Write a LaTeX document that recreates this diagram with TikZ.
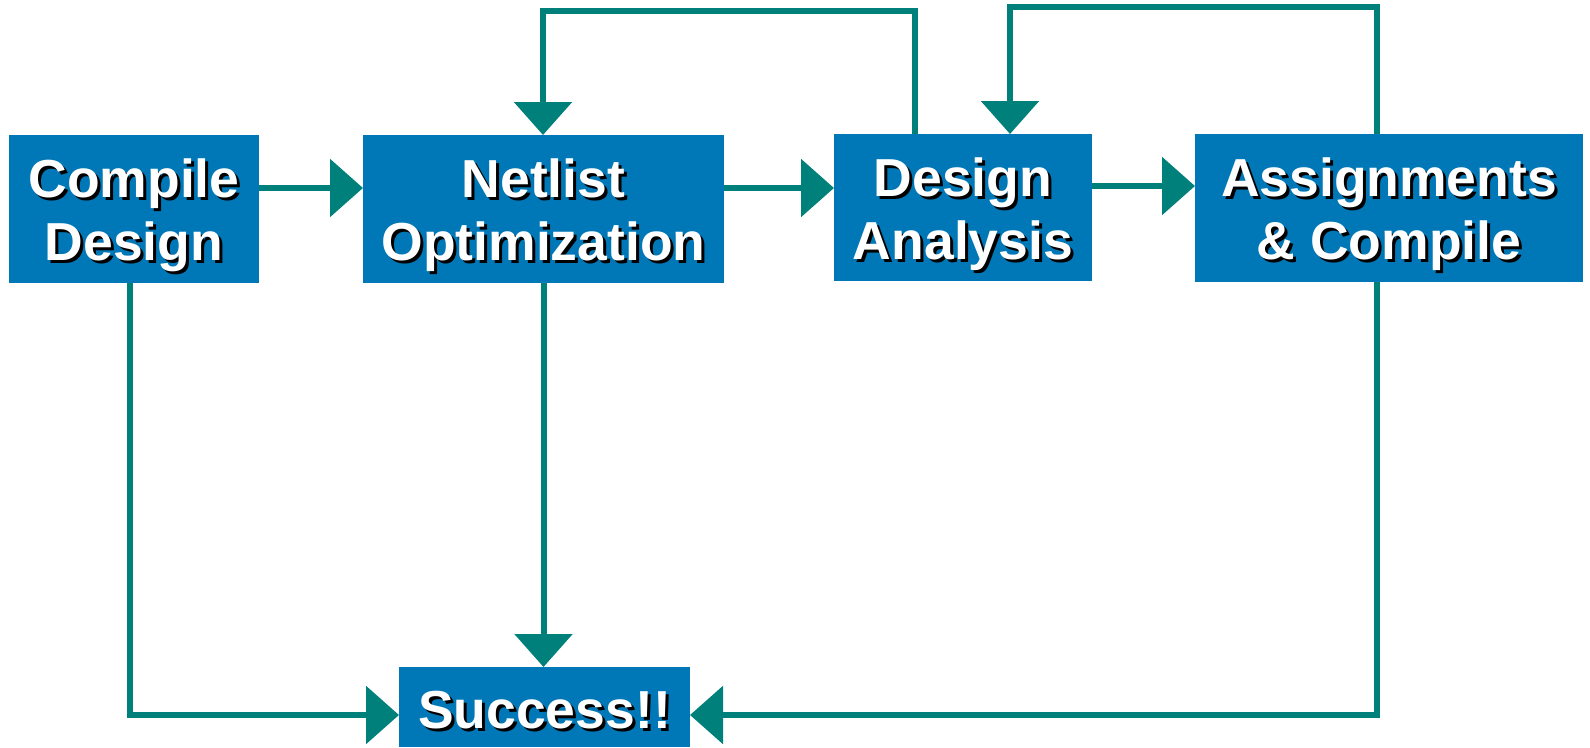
\documentclass[tikz,border=0pt]{standalone}
\usepackage{fontspec}
\setmainfont{Liberation Sans}
\usetikzlibrary{arrows.meta}
\definecolor{boxblue}{RGB}{0,119,182}
\definecolor{flowteal}{RGB}{0,128,122}
\newcommand\shtxt[1]{\makebox[0pt][l]{\hspace{3pt}\raisebox{-3pt}{\color{black}#1}}#1}
\tikzset{
  stagebox/.style={fill=boxblue, inner sep=0pt, outer sep=0pt},
  stagetext/.style={text=white, inner sep=0pt, align=center,
    font=\fontsize{53.5}{63}\selectfont\bfseries},
  flow/.style={draw=flowteal, line width=6pt, line join=miter},
  flowarrow/.style={flow, -{Triangle[length=33pt,width=57pt]}}
}
\begin{document}
\begin{tikzpicture}[x=1pt,y=-1pt]
\useasboundingbox (0,0) rectangle (1590,747);
\node[stagebox, minimum width=250pt, minimum height=148pt,
  label={[stagetext, yshift=-8pt]center:{\shtxt{Compile}\\\shtxt{Design}}}] (cd) at (134,209) {};
\node[stagebox, minimum width=361pt, minimum height=148pt,
  label={[stagetext, yshift=-8pt]center:{\shtxt{Netlist}\\\shtxt{Optimization}}}] (nl) at (543.5,209) {};
\node[stagebox, minimum width=258pt, minimum height=147pt,
  label={[stagetext, yshift=-8pt]center:{\shtxt{Design}\\\shtxt{Analysis}}}] (da) at (963,207.5) {};
\node[stagebox, minimum width=388pt, minimum height=148pt,
  label={[stagetext, yshift=-8pt]center:{\shtxt{Assignments}\\\shtxt{\& Compile}}}] (ac) at (1389,208) {};
\node[stagebox, minimum width=291pt, minimum height=80pt,
  label={[stagetext, yshift=-5pt]center:{\shtxt{Success!!}}}] (sc) at (544.5,707) {};
\coordinate (h1) at (0,188);
\coordinate (h2) at (0,188);
\coordinate (h3) at (0,186);
\coordinate (t1) at (915,11);
\coordinate (t1b) at (543,11);
\coordinate (t2) at (1377,7);
\coordinate (t2b) at (1010,7);
\coordinate (b1) at (130,715);
\coordinate (b2) at (1377,715);
\draw[flowarrow] (cd.east |- h1) -- (nl.west |- h1);
\draw[flowarrow] (nl.east |- h2) -- (da.west |- h2);
\draw[flowarrow] (da.east |- h3) -- (ac.west |- h3);
\draw[flowarrow] (t1 |- da.north) -- (t1) -- (t1b) -- (t1b |- nl.north);
\draw[flowarrow] (t2 |- ac.north) -- (t2) -- (t2b) -- (t2b |- da.north);
\draw[flowarrow] (b1 |- cd.south) -- (b1) -- (b1 -| sc.west);
\draw[flowarrow] (nl.south) -- (nl.south |- sc.north);
\draw[flowarrow] (b2 |- ac.south) -- (b2) -- (b2 -| sc.east);
\end{tikzpicture}
\end{document}
